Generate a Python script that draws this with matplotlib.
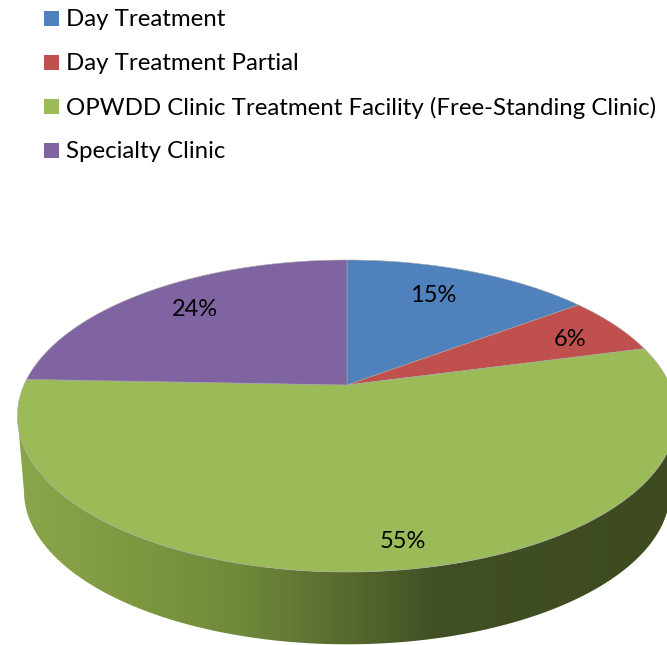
import numpy as np
import matplotlib
matplotlib.use('Agg')
import matplotlib.pyplot as plt
from matplotlib.colors import LinearSegmentedColormap
from matplotlib.patches import Polygon, Rectangle

plt.rcParams['font.family'] = ['Lato', 'DejaVu Sans']

# data
categories = ['Day Treatment', 'Day Treatment Partial',
              'OPWDD Clinic Treatment Facility (Free-Standing Clinic)', 'Specialty Clinic']
shares = [14.8, 6.1, 54.7, 24.4]
pct_labels = ['15%', '6%', '55%', '24%']
colors = ['#4F81BD', '#C0504D', '#9BBB59', '#8064A2']

# pie geometry in pixels, the perspective squashes the far side
cx, cy = 347, 385
R = 323
a = 149.85
k = 0.1988
depth_cy = 461
depth_scale = 0.98

label_pos = [(433, 296), (570, 339), (403, 542), (195, 310)]


def project(theta, scale=1.0, y0=cy):
    # theta runs clockwise from the top of the pie
    x = np.sin(theta)
    v = -np.cos(theta)
    w = 1 - k * v
    return cx + scale * R * x / w, y0 + scale * a * v / w


fig = plt.figure(figsize=(6.67, 6.45), dpi=100)
ax = fig.add_axes([0, 0, 1, 1])
ax.set_xlim(0, 667)
ax.set_ylim(645, 0)
ax.axis('off')

# side wall, only the front part can be seen
t0 = np.arccos(-k)
t = np.linspace(t0, 2 * np.pi - t0, 300)
xt, yt = project(t)
xb, yb = project(t, depth_scale, depth_cy)
side = Polygon(np.r_[np.c_[xt, yt], np.c_[xb, yb][::-1]], closed=True, fc='none', ec='none')
ax.add_patch(side)
cmap = LinearSegmentedColormap.from_list('side', [
    (0.00, '#8CA84B'), (0.22, '#7C963F'), (0.36, '#70893B'), (0.50, '#5A6E30'),
    (0.66, '#414F24'), (1.00, '#3E4B21')])
grad = ax.imshow(np.linspace(0, 1, 667)[None, :], cmap=cmap, extent=(0, 667, 645, 0), aspect='auto')
grad.set_clip_path(side)

# top face
edges = np.cumsum([0] + shares) / 100 * 2 * np.pi
for i in range(len(shares)):
    t = np.linspace(edges[i], edges[i + 1], 200)
    xs, ys = project(t)
    ax.fill(np.r_[cx, xs], np.r_[cy, ys], color=colors[i], lw=0.4, ec='#A8A8A8', joinstyle='round')

for (x, y), s in zip(label_pos, pct_labels):
    ax.text(x, y, s, fontsize=17, color='black', ha='center', va='center')

# legend
for i, name in enumerate(categories):
    ax.add_patch(Rectangle((44, 11 + 44 * i), 15, 15, fc=colors[i], ec='none'))
    ax.text(66, 20 + 44 * i, name, fontsize=17.3, color='black', ha='left', va='center')

fig.savefig('out.png', dpi=100)
